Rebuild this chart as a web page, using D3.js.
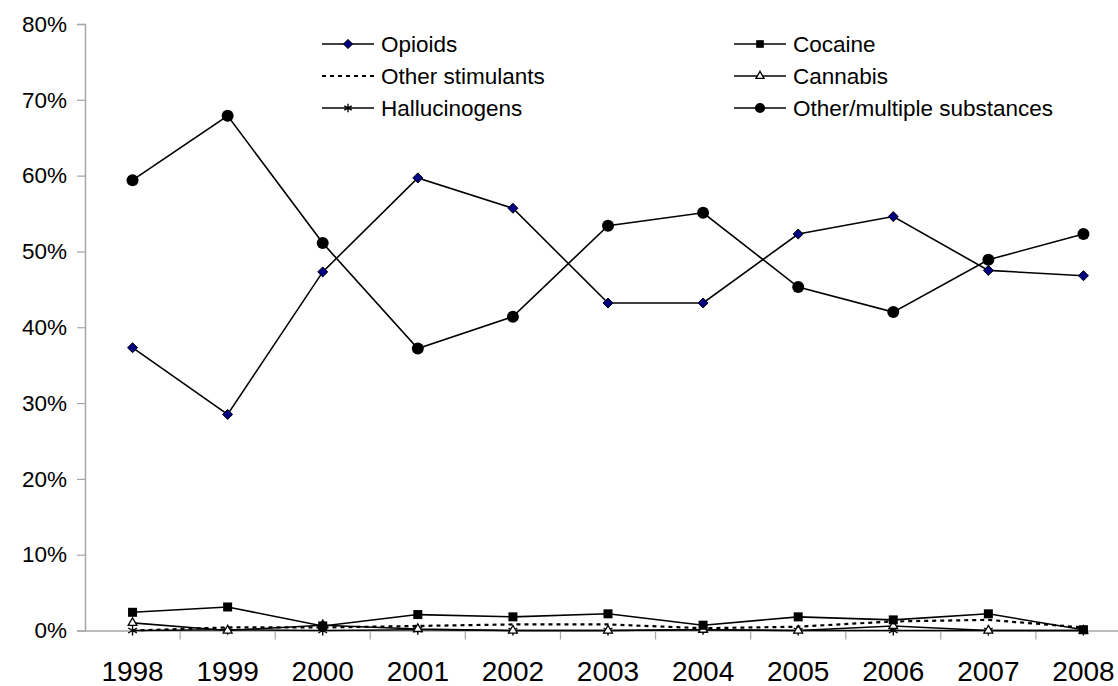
<!DOCTYPE html>
<html>
<head>
<meta charset="utf-8">
<script src="https://cdn.jsdelivr.net/npm/d3@7"></script>
<style>
  body { margin: 0; background: #fff; }
  text { font-family: "Liberation Sans", Arial, sans-serif; fill: #000; }
</style>
</head>
<body>
<script>
// categories
var years = ["1998", "1999", "2000", "2001", "2002", "2003", "2004", "2005", "2006", "2007", "2008"];

// series values (share of total)
var opioids      = [0.373, 0.285, 0.473, 0.597, 0.557, 0.432, 0.432, 0.523, 0.546, 0.475, 0.468];
var cocaine      = [0.024, 0.031, 0.006, 0.021, 0.018, 0.022, 0.007, 0.018, 0.014, 0.022, 0.001];
var stimulants   = [0.000, 0.004, 0.004, 0.006, 0.008, 0.008, 0.003, 0.005, 0.012, 0.014, 0.004];
var cannabis     = [0.010, 0.000, 0.007, 0.002, 0.000, 0.000, 0.001, 0.000, 0.006, 0.000, 0.000];
var hallucinogens= [0.000, 0.001, 0.000, 0.001, 0.000, 0.000, 0.001, 0.000, 0.000, 0.000, 0.000];
var otherMultiple= [0.594, 0.679, 0.511, 0.372, 0.414, 0.534, 0.551, 0.453, 0.420, 0.489, 0.523];

var yTicks = [0, 0.1, 0.2, 0.3, 0.4, 0.5, 0.6, 0.7, 0.8];

var width = 1118, height = 686;

var svg = d3.select("body").append("svg")
    .attr("width", width)
    .attr("height", height);

// set the ranges
var x = d3.scaleBand().domain(years).range([85, 1131]);
var y = d3.scaleLinear().domain([0, 0.8]).range([630.5, 24]);
var cx = function(i) { return x(years[i]) + x.bandwidth() / 2; };

// Y axis
var yAxis = svg.append("g")
    .attr("transform", "translate(85,0)")
    .call(d3.axisLeft(y).tickValues(yTicks).tickFormat(d3.format(".0%")).tickSize(8).tickPadding(10));
yAxis.select(".domain").attr("stroke", "#a6a6a6").attr("stroke-width", 1.5);
yAxis.selectAll(".tick line").attr("stroke", "#a6a6a6").attr("stroke-width", 1.2);
yAxis.selectAll(".tick text")
    .style("font-family", "'Liberation Sans', Arial, sans-serif")
    .style("font-size", "22.5px")
    .attr("fill", "#000");

// X axis
var xAxis = svg.append("g")
    .attr("transform", "translate(0," + y(0) + ")")
    .call(d3.axisBottom(x).tickSize(0).tickPadding(31));
xAxis.select(".domain").attr("stroke", "#a6a6a6").attr("stroke-width", 1.5);
xAxis.selectAll(".tick text")
    .style("font-family", "'Liberation Sans', Arial, sans-serif")
    .style("font-size", "28px")
    .attr("fill", "#000");
// tick marks sit between categories
xAxis.selectAll(".sep")
    .data(years)
    .enter().append("line")
    .attr("class", "sep")
    .attr("x1", function(d) { return x(d) + x.bandwidth(); })
    .attr("x2", function(d) { return x(d) + x.bandwidth(); })
    .attr("y1", 0).attr("y2", 9)
    .attr("stroke", "#a6a6a6").attr("stroke-width", 1.2);

// marker drawing helpers
function drawMarker(g, type, px, py, small) {
  var s = small ? 0.85 : 1;
  if (type === "diamond") {
    g.append("path")
      .attr("d", d3.symbol().type(d3.symbolDiamond2).size(64 * s)())
      .attr("transform", "translate(" + px + "," + py + ")")
      .attr("fill", "#000080").attr("stroke", "#000").attr("stroke-width", 1);
  } else if (type === "square") {
    g.append("rect")
      .attr("x", px - 4.5 * s).attr("y", py - 4.5 * s)
      .attr("width", 9 * s).attr("height", 9 * s)
      .attr("fill", "#000");
  } else if (type === "triangle") {
    g.append("path")
      .attr("d", d3.symbol().type(d3.symbolTriangle2).size(55 * s)())
      .attr("transform", "translate(" + px + "," + py + ")")
      .attr("fill", "#fff").attr("stroke", "#000").attr("stroke-width", 1.3);
  } else if (type === "star") {
    var r = 5 * s;
    g.append("path")
      .attr("d", "M" + px + "," + (py - r) + "V" + (py + r) +
                 "M" + (px - r * 0.87) + "," + (py - r * 0.5) + "L" + (px + r * 0.87) + "," + (py + r * 0.5) +
                 "M" + (px - r * 0.87) + "," + (py + r * 0.5) + "L" + (px + r * 0.87) + "," + (py - r * 0.5))
      .attr("stroke", "#000").attr("stroke-width", 1.4).attr("fill", "none");
  } else if (type === "circle") {
    g.append("circle")
      .attr("cx", px).attr("cy", py).attr("r", 6 * s)
      .attr("fill", "#000");
  }
}

var series = [
  {name: "Opioids", values: opioids, marker: "diamond", dash: null},
  {name: "Cocaine", values: cocaine, marker: "square", dash: null},
  {name: "Other stimulants", values: stimulants, marker: null, dash: "4,4"},
  {name: "Cannabis", values: cannabis, marker: "triangle", dash: null},
  {name: "Hallucinogens", values: hallucinogens, marker: "star", dash: null},
  {name: "Other/multiple substances", values: otherMultiple, marker: "circle", dash: null}
];

var line = d3.line()
    .x(function(d, i) { return cx(i); })
    .y(function(d) { return y(d); });

var plot = svg.append("g");
series.slice().reverse().forEach(function(s) {
  plot.append("path")
    .datum(s.values)
    .attr("d", line)
    .attr("fill", "none")
    .attr("stroke", "#000")
    .attr("stroke-width", s.dash ? 2.2 : 1.6)
    .attr("stroke-dasharray", s.dash);
  if (s.marker) {
    s.values.forEach(function(v, i) { drawMarker(plot, s.marker, cx(i), y(v), false); });
  }
});

// legend
var legendPos = [
  {x: 322, y: 44}, {x: 734, y: 44},
  {x: 322, y: 76}, {x: 734, y: 76},
  {x: 322, y: 108}, {x: 734, y: 108}
];
var legend = svg.append("g");
series.forEach(function(s, i) {
  var p = legendPos[i];
  legend.append("line")
    .attr("x1", p.x).attr("x2", p.x + 52)
    .attr("y1", p.y).attr("y2", p.y)
    .attr("stroke", "#000")
    .attr("stroke-width", s.dash ? 2.2 : 1.6)
    .attr("stroke-dasharray", s.dash);
  if (s.marker) drawMarker(legend, s.marker, p.x + 26, p.y, true);
  legend.append("text")
    .attr("x", p.x + 59)
    .attr("y", p.y)
    .attr("dy", "0.35em")
    .style("font-size", "22.5px")
    .text(s.name);
});
</script>
</body>
</html>
